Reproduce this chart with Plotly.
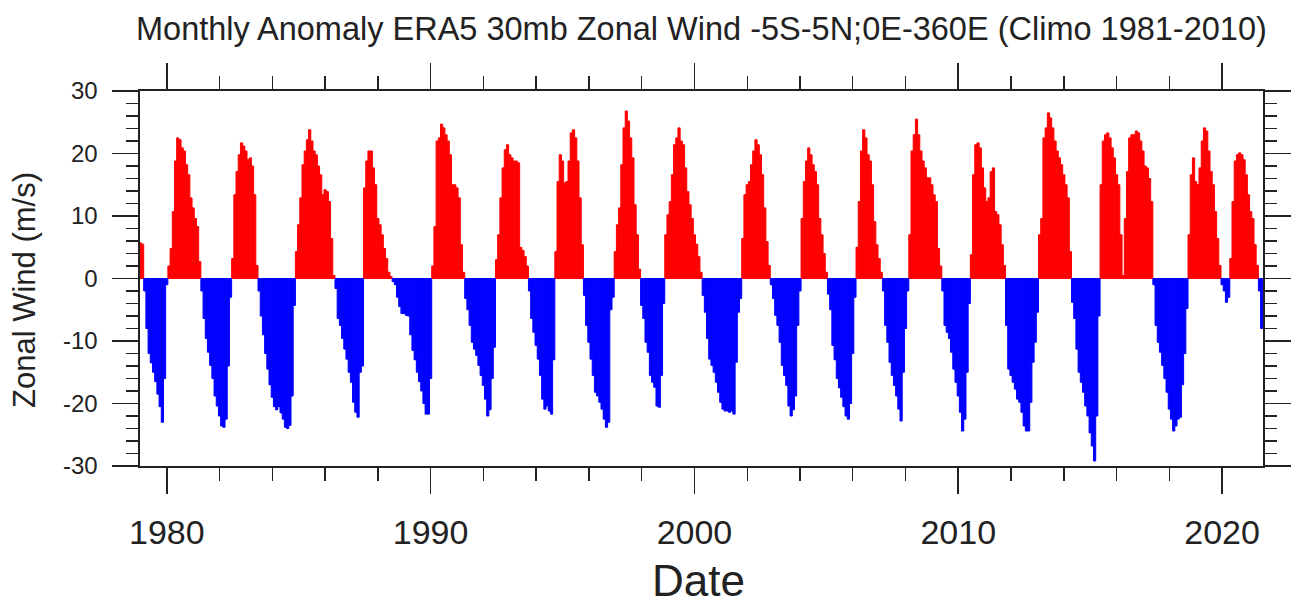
import plotly.graph_objects as go

# ---------------- data (monthly zonal-wind anomaly, m/s, Jan 1979 .. Jul 2021) -------------
TITLE = "Monthly Anomaly ERA5 30mb Zonal Wind -5S-5N;0E-360E (Climo 1981-2010)"
X_TITLE = "Date"
Y_TITLE = "Zonal Wind (m/s)"
START_YEAR = 1979

x_tick_values = [1980, 1990, 2000, 2010, 2020]
x_tick_labels = ["1980", "1990", "2000", "2010", "2020"]
y_tick_values = [-30, -20, -10, 0, 10, 20, 30]
y_tick_labels = ["-30", "-20", "-10", "0", "10", "20", "30"]

u1979 = [5.7, 5.5, -2, -8, -12, -13.5, -15, -16.5, -18.5, -20.5, -23, -16]
u1980 = [-1, 2, 4.8, 10.7, 18.8, 22.5, 22.2, 20.9, 20.4, 18.2, 16.6, 12.9]
u1981 = [11.3, 9.6, 8.3, 2.7, -2, -6.4, -9.6, -11.8, -13.9, -16, -18.8, -20.4]
u1982 = [-22, -23.6, -23.8, -22.5, -14, -3, 3.2, 13.4, 17.1, 19.8, 21.7, 21.2]
u1983 = [20.4, 19, 19.3, 18, 13.4, 2.1, -2, -6, -9, -12, -14.5, -17]
u1984 = [-19, -20.5, -21, -20.5, -21.5, -22.5, -23.8, -24, -23.5, -18.8, -4.3, 4.3]
u1985 = [8.6, 12.9, 18.2, 20.4, 22.2, 23.8, 22, 20.4, 19.8, 18, 16.6, 13.4]
u1986 = [14.2, 13.9, 12.3, 6.4, 0.5, -1.6, -6.4, -7.5, -9.6, -11.3, -12.9, -15]
u1987 = [-16.6, -19.8, -21.4, -22.2, -15, -14, 14.5, 18.8, 20.4, 20.4, 17.7, 15]
u1988 = [9.6, 8.6, 7, 4.8, 3.2, 1, 0.3, -0.5, -1, -3, -4.5, -5.6]
u1989 = [-5.6, -5.9, -6, -9, -11.5, -13, -15, -16.5, -18, -20, -21.7, -21.7]
u1990 = [-16, 2, 8.3, 22, 22.5, 24.7, 24.1, 23, 22, 19.8, 15, 15]
u1991 = [14.5, 12.9, 5.4, 1, -3.2, -5, -7.5, -10.2, -11.3, -12.3, -13.9, -15.5]
u1992 = [-17.1, -19.3, -22, -21, -16, -11, 3, 7, 12.9, 17.7, 20.6, 21.4]
u1993 = [19.8, 19.3, 18.8, 18.8, 18.5, 5, 4.5, 3.5, 2, -2, -6.4, -8.6]
u1994 = [-10.7, -12.9, -15.5, -19.3, -20.9, -20.4, -21.2, -21.7, -13, 4.3, 15.5, 19.8]
u1995 = [18.8, 15.3, 15.5, 18.8, 23.3, 23.8, 22.5, 18.8, 12.9, 5.4, -2.7, -7.5]
u1996 = [-10.2, -12.9, -15.5, -18.2, -18.8, -19.8, -20.9, -22.5, -23.8, -23, -5, -3]
u1997 = [4.3, 8.6, 11.3, 18.2, 24.1, 26.8, 25.2, 22.5, 19.3, 11.8, 7, 1.5]
u1998 = [-4.3, -6.4, -10.2, -11.8, -15.5, -16.6, -17.4, -20.4, -20.6, -15.5, -4, 7]
u1999 = [10.2, 12.3, 16.6, 21.4, 22.5, 24.1, 22, 21.4, 17.7, 13.9, 11.8, 9.6]
u2000 = [7, 5.5, 3.5, 1, -2.7, -5.4, -9.6, -12.9, -13.9, -15, -16.6, -18.2]
u2001 = [-19.8, -20.9, -21.2, -21.2, -21.4, -21.2, -21.7, -13.4, -5.4, -3.2, 6.4, 13.4]
u2002 = [15, 15.5, 18.2, 20.4, 22.2, 21.4, 19.8, 16.6, 11.3, 5.9, 2.1, -1]
u2003 = [-3.2, -5.9, -7.5, -10.2, -13.9, -15.5, -17.1, -20.4, -22, -21, -18.8, -7.5]
u2004 = [-2, 9.6, 15.5, 18.8, 20.9, 19.8, 18.2, 17.1, 15, 9.6, 7, 4]
u2005 = [1, -2.5, -5, -10.7, -13, -16, -17.5, -19, -20.5, -22, -22.5, -20]
u2006 = [-12, -3, 5, 12.3, 20.4, 23.8, 22.5, 19.8, 18.8, 15, 9.1, 5.4]
u2007 = [3.2, 1, -2, -7.5, -10.2, -13.4, -15.5, -17.1, -18.8, -20.9, -22.8, -15]
u2008 = [-8, -2, 7, 20.4, 23, 25.5, 23, 20.4, 18.8, 17.7, 16.1, 16.1]
u2009 = [15, 13.4, 12.3, 4.8, 2, -2, -7.5, -8.6, -9.6, -11.8, -14.5, -16.6]
u2010 = [-18.8, -21.4, -24.4, -22.5, -15, -4, 3.8, 16.6, 21.4, 21.7, 20.9, 17.7]
u2011 = [14.5, 12.3, 12.9, 17.1, 17.7, 10.7, 10.2, 8.6, 5.4, 2.1, -7.5, -14.5]
u2012 = [-15.5, -16.6, -17.7, -19.3, -19.8, -21.4, -23.6, -24.4, -24.4, -19.8, -13.4, -10.2]
u2013 = [-5.4, 7, 9.6, 22.5, 24.1, 26.5, 25.7, 24.1, 22, 20.4, 19.3, 18.2]
u2014 = [16.6, 15, 12.9, 4.3, -3.8, -6.4, -11.3, -15, -16.6, -18.2, -20.4, -22]
u2015 = [-24.7, -26.8, -29.2, -22, -6, 15, 22, 23, 23.3, 22.5, 20.9, 19.3]
u2016 = [16.6, 15, 7, 0.5, 9.6, 17.1, 22.5, 23, 23, 23.6, 23.3, 22]
u2017 = [20.4, 18, 17.7, 16, 12.3, -1, -7.5, -10.2, -11.8, -13.9, -16, -18.2]
u2018 = [-20.9, -22.5, -24.4, -23.6, -22.5, -22.2, -17, -12, -4.8, 7, 16.6, 19.3]
u2019 = [15.5, 15, 17.7, 22, 24.1, 23.6, 20.4, 17.1, 15, 10.7, 6.4, 2.1]
u2020 = [-1, -2, -3.8, -3, 3.2, 12.3, 18.8, 19.8, 20.1, 19.8, 19, 16.6]
u2021 = [13.4, 10.7, 9.6, 5.4, 2.1, -2, -8]

years_data = [u1979, u1980, u1981, u1982, u1983, u1984, u1985, u1986, u1987, u1988,
              u1989, u1990, u1991, u1992, u1993, u1994, u1995, u1996, u1997, u1998,
              u1999, u2000, u2001, u2002, u2003, u2004, u2005, u2006, u2007, u2008,
              u2009, u2010, u2011, u2012, u2013, u2014, u2015, u2016, u2017, u2018,
              u2019, u2020, u2021]

# ---------------- build series ----------------
values = [v for yr in years_data for v in yr]
times = [START_YEAR + i / 12.0 for i in range(len(values))]

pos_x = [t for t, v in zip(times, values) if v >= 0]
pos_y = [v for v in values if v >= 0]
neg_x = [t for t, v in zip(times, values) if v < 0]
neg_y = [v for v in values if v < 0]

RED = "#FF0000"
BLUE = "#0000FF"
INK = "#222222"
FONT = "Liberation Sans, Arial, Helvetica, sans-serif"

fig = go.Figure()
fig.add_trace(go.Bar(x=pos_x, y=pos_y, width=1 / 12.0,
                     marker=dict(color=RED, line=dict(color=RED, width=1.0)),
                     hoverinfo="x+y", showlegend=False))
fig.add_trace(go.Bar(x=neg_x, y=neg_y, width=1 / 12.0,
                     marker=dict(color=BLUE, line=dict(color=BLUE, width=1.0)),
                     hoverinfo="x+y", showlegend=False))

W, H = 1293, 608
ML, MR, MT, MB = 140, 30, 91, 142

fig.update_layout(
    width=W, height=H,
    margin=dict(l=ML, r=MR, t=MT, b=MB, autoexpand=False),
    paper_bgcolor="white", plot_bgcolor="white",
    barmode="overlay", bargap=0,
    font=dict(family=FONT, color=INK),
    showlegend=False,
)

fig.update_xaxes(
    range=[1978.985, 2021.55],
    tickmode="array", tickvals=x_tick_values, ticktext=x_tick_labels,
    ticks="outside", ticklen=26, tickwidth=1.6, tickcolor=INK,
    minor=dict(tickmode="linear", tick0=1980, dtick=2, ticks="outside",
               ticklen=13, tickwidth=1.4, tickcolor=INK, showgrid=False),
    showline=True, linecolor=INK, linewidth=1.6, mirror="allticks",
    showgrid=False, zeroline=False,
    tickfont=dict(size=34, family=FONT, color=INK),
    ticklabelstandoff=10,
)
fig.update_yaxes(
    range=[-30, 30],
    tickmode="array", tickvals=y_tick_values, ticktext=y_tick_labels,
    ticks="outside", ticklen=26, tickwidth=1.6, tickcolor=INK,
    minor=dict(tickmode="linear", tick0=0, dtick=2, ticks="outside",
               ticklen=12, tickwidth=1.4, tickcolor=INK, showgrid=False),
    showline=True, linecolor=INK, linewidth=1.6, mirror="allticks",
    showgrid=False, zeroline=False,
    tickfont=dict(size=24, family=FONT, color=INK),
    ticklabelstandoff=10,
)

PW = W - ML - MR
PH = H - MT - MB


def px_to_paper_x(px):
    return (px - ML) / PW


def px_to_paper_y(py):
    return (H - MB - py) / PH


fig.add_annotation(text=TITLE, xref="paper", yref="paper",
                   x=px_to_paper_x(701), y=px_to_paper_y(29),
                   xanchor="center", yanchor="middle", showarrow=False,
                   font=dict(size=32.5, family=FONT, color=INK))
fig.add_annotation(text=X_TITLE, xref="paper", yref="paper",
                   x=px_to_paper_x(698), y=px_to_paper_y(580),
                   xanchor="center", yanchor="middle", showarrow=False,
                   font=dict(size=44, family=FONT, color=INK))
fig.add_annotation(text=Y_TITLE, xref="paper", yref="paper",
                   x=px_to_paper_x(24), y=px_to_paper_y(290),
                   xanchor="center", yanchor="middle", showarrow=False,
                   textangle=-90,
                   font=dict(size=31, family=FONT, color=INK))

fig.write_html(
    "out.html",
    config={"displayModeBar": False, "staticPlot": True},
    post_script="document.body.style.margin='0';"
                "document.documentElement.style.overflow='hidden';",
)
